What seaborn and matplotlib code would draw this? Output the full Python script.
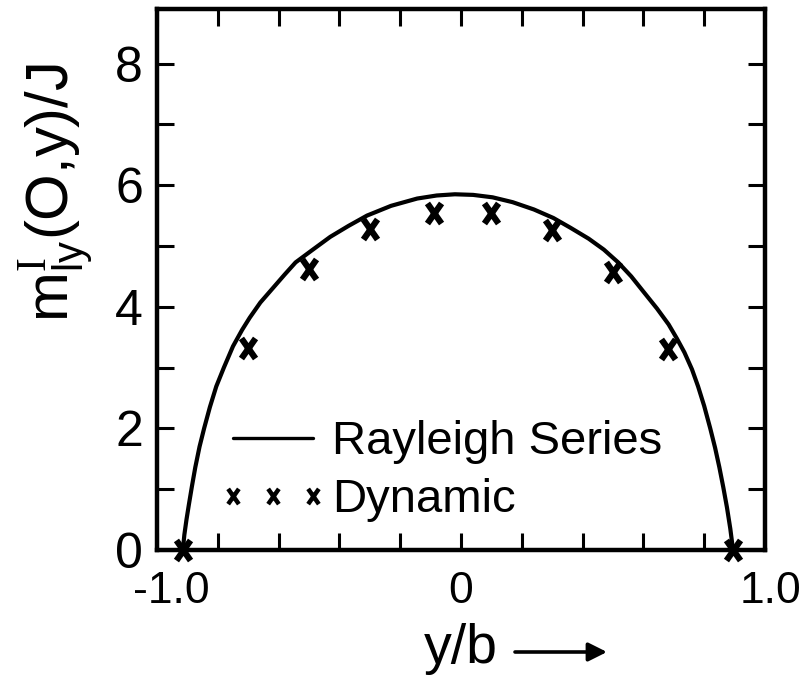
import numpy as np
import pandas as pd
import seaborn as sns
import matplotlib
matplotlib.use("Agg")
import matplotlib.pyplot as plt
import matplotlib.transforms as mtransforms
from matplotlib.lines import Line2D
from matplotlib.path import Path

# Rayleigh series solution: spanwise moment distribution
rayleigh_x = [-0.915, -0.91, -0.903, -0.895, -0.885, -0.874, -0.86, -0.845, -0.826,
              -0.805, -0.78, -0.75, -0.72, -0.695, -0.66, -0.62, -0.58, -0.544,
              -0.49, -0.43, -0.37, -0.309, -0.23, -0.144, -0.08, -0.02, 0.04,
              0.104, 0.17, 0.24, 0.304, 0.36, 0.42, 0.47, 0.517, 0.56, 0.60,
              0.645, 0.683, 0.71, 0.735, 0.76, 0.78, 0.80, 0.82, 0.836, 0.85,
              0.863, 0.875, 0.886, 0.895]
rayleigh_y = [0.0, 0.25, 0.5, 0.75, 1.05, 1.36, 1.7, 2.0, 2.35,
              2.69, 3.0, 3.35, 3.62, 3.82, 4.07, 4.3, 4.53, 4.73,
              4.93, 5.15, 5.33, 5.50, 5.66, 5.78, 5.83, 5.85, 5.84,
              5.80, 5.72, 5.60, 5.46, 5.30, 5.12, 4.94, 4.73, 4.50, 4.25,
              3.97, 3.71, 3.48, 3.25, 2.97, 2.69, 2.37, 2.0, 1.68, 1.36,
              1.03, 0.7, 0.35, 0.0]

# Dynamic solution points
dynamic_x = [-0.915, -0.70, -0.50, -0.30, -0.09, 0.10, 0.30, 0.50, 0.68, 0.895]
dynamic_y = [0.0, 3.33, 4.62, 5.28, 5.54, 5.54, 5.27, 4.58, 3.31, 0.0]

x_ticks = [-1.0, -0.8, -0.6, -0.4, -0.2, 0.0, 0.2, 0.4, 0.6, 0.8, 1.0]
x_labels = ["-1.0", "", "", "", "", "0", "", "", "", "", "1.0"]
y_ticks = [0, 1, 2, 3, 4, 5, 6, 7, 8]
y_labels = ["0", "", "2", "", "4", "", "6", "", "8"]

sns.set_style("ticks")
plt.rcParams["font.family"] = ["Liberation Sans", "DejaVu Sans"]
plt.rcParams["mathtext.fontset"] = "custom"
plt.rcParams["mathtext.rm"] = "Liberation Sans"
plt.rcParams["mathtext.it"] = "Liberation Sans"
plt.rcParams["mathtext.sf"] = "Liberation Serif"
plt.rcParams["text.color"] = "black"
plt.rcParams["axes.labelcolor"] = "black"

fig = plt.figure(figsize=(8.01, 6.79), dpi=100)
ax = fig.add_axes([0.196, 0.19, 0.759, 0.797])

curve = pd.DataFrame({"x": rayleigh_x, "y": rayleigh_y})
pts = pd.DataFrame({"x": dynamic_x, "y": dynamic_y})

sns.lineplot(data=curve, x="x", y="y", ax=ax, color="black", linewidth=3.0,
             estimator=None, sort=False, solid_joinstyle="round")

# tall, heavy cross used for the dynamic points
cross = Path([(-0.7, -1.0), (0.7, 1.0), (-0.7, 1.0), (0.7, -1.0)],
             [Path.MOVETO, Path.LINETO, Path.MOVETO, Path.LINETO])
sns.scatterplot(data=pts, x="x", y="y", ax=ax, marker=cross, s=210,
                color="black", edgecolor="black", linewidth=4.5, zorder=5,
                clip_on=False)

ax.set_xlim(-1.0, 1.0)
ax.set_ylim(0, 8.9)
ax.set_xticks(x_ticks)
ax.set_xticklabels(x_labels)
ax.set_yticks(y_ticks)
ax.set_yticklabels(y_labels)
ax.tick_params(axis="both", direction="in", length=12, width=2.2,
               top=True, right=True, colors="black")
ax.tick_params(axis="x", pad=15, labelsize=32)
ax.tick_params(axis="y", pad=10, labelsize=36)

# nudge the end labels of the x axis rightward
offsets = {"-1.0": 14, "1.0": 6}
for lbl in ax.get_xticklabels():
    dx = offsets.get(lbl.get_text(), 0)
    if dx:
        lbl.set_transform(lbl.get_transform()
                          + mtransforms.ScaledTranslation(dx / 100, 0, fig.dpi_scale_trans))
for s in ax.spines.values():
    s.set_visible(True)
    s.set_linewidth(3.2)
    s.set_color("black")

ax.set_xlabel("y/b", fontsize=40)
ax.xaxis.set_label_coords(0.50, -0.135)
ax.set_ylabel(r"$\mathregular{m^{\mathsf{I}}_{ly}(O{,}y)/J}$", fontsize=43)
ax.yaxis.set_label_coords(-0.1, 0.66)

# direction arrow beside the axis title
ax.annotate("", xy=(607 / 801, 1 - 652 / 679), xytext=(515 / 801, 1 - 652 / 679),
            xycoords="figure fraction", textcoords="figure fraction",
            arrowprops=dict(arrowstyle="-|>", lw=2.6, mutation_scale=28,
                            color="black", shrinkA=0, shrinkB=0))

handles = [
    Line2D([], [], color="black", linewidth=2.4),
    Line2D([], [], color="black", linestyle="none", marker=cross,
           markersize=11, markeredgewidth=3.2),
]
ax.legend(handles, ["Rayleigh Series", "Dynamic"], loc="upper left",
          bbox_to_anchor=(0.07, 0.275), frameon=False, fontsize=34,
          handlelength=2.3, handletextpad=0.1, numpoints=3,
          labelspacing=0.3, borderaxespad=0.0)

fig.savefig("out.png", dpi=100, facecolor="white")
